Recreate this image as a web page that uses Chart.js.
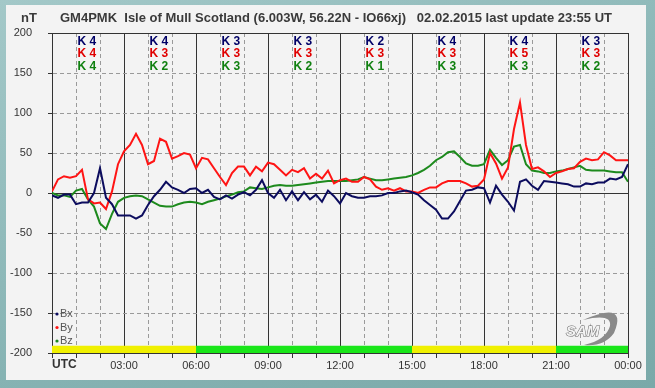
<!DOCTYPE html>
<html>
<head>
<meta charset="utf-8">
<script src="https://cdn.jsdelivr.net/npm/chart.js@4.4.1/dist/chart.umd.min.js"></script>
<style>
  html, body { margin: 0; padding: 0; }
  body { width: 655px; height: 388px; position: relative; overflow: hidden;
         background: linear-gradient(160deg, #a3c8c8 0%, #86b3b3 60%, #7aa9a9 100%); }
  #panel { position: absolute; left: 6px; top: 5px; width: 640px; height: 375px; background: #f3f3f3; }
  #wrap { position: absolute; left: 0; top: 0; width: 655px; height: 388px; }
</style>
</head>
<body>
<div id="panel"></div>
<div id="wrap"><canvas id="magChart" width="655" height="388"></canvas></div>
<script>
// time of day in hours (UTC), 15 min steps
const hours = [0,0.25,0.5,0.75,1,1.25,1.5,1.75,2,2.25,2.5,2.75,3,3.25,3.5,3.75,4,4.25,4.5,4.75,
  5,5.25,5.5,5.75,6,6.25,6.5,6.75,7,7.25,7.5,7.75,8,8.25,8.5,8.75,9,9.25,9.5,9.75,
  10,10.25,10.5,10.75,11,11.25,11.5,11.75,12,12.25,12.5,12.75,13,13.25,13.5,13.75,14,14.25,14.5,14.75,
  15,15.25,15.5,15.75,16,16.25,16.5,16.75,17,17.25,17.5,17.75,18,18.25,18.5,18.75,19,19.25,19.5,19.75,
  20,20.25,20.5,20.75,21,21.25,21.5,21.75,22,22.25,22.5,22.75,23,23.25,23.5,23.75,24];

// nT values
const bx = [-3,-6,-2,-2, -14,-12,-12,0, 31,-6,-14,-28, -28,-28,-32,-28, -15,-4,4,14,
  7,4,0,5, 6,0,4,-5, -8,-3,-7,-2, 1,-3,4,16, 0,-6,4,-9,
  2,-9,1,-8, -2,-11,3,-4, -13,0,-4,-6, -6,-4,-4,-3, 0,0,2,3,
  1,-2,-9,-15, -21,-32,-32,-23, -10,3,4,7, 6,-12,9,-2, -11,-22,14,17,
  9,4,15,14, 13,12,11,8, 8,12,11,13, 13,18,17,20, 36];
const by = [2,17,21,19, 21,29,-8,-13, -12,-20,2,36, 52,60,74,60, 36,40,68,64,
  43,46,50,48, 31,44,42,31, 20,10,25,33, 33,22,33,27, 38,36,29,22,
  29,26,31,18, 24,18,28,12, 16,18,14,14, 20,17,8,4, 6,3,6,2,
  2,0,4,7, 7,12,15,15, 15,12,8,9, 17,50,37,18, 32,80,113,60,
  30,32,27,20, 25,27,30,31, 39,43,41,42, 51,47,41,41, 41];
const bz = [0,-3,-3,-5, 3,5,-8,-17, -38,-45,-26,-11, -6,-4,-3,-4, -8,-12,-16,-17,
  -17,-14,-12,-11, -12,-14,-11,-9, -7,-4,-2,1, 2,7,6,5, 7,9,10,9,
  9,10,11,12, 13,14,15,15, 15,15,16,17, 20,18,16,16, 17,18,19,20,
  22,25,29,34, 41,45,51,52, 45,37,34,34, 36,54,44,35, 41,58,60,36,
  28,27,25,25, 27,28,30,32, 34,29,28,28, 28,27,26,26, 14];

// K index per 3 hour block
const kStart = [0,3,6,9,12,15,18,21];
const kX = [4,4,3,3,2,4,4,3];
const kY = [4,3,3,3,3,3,5,3];
const kZ = [4,2,3,2,1,3,3,2];

// activity strip along the bottom
const bandStart = [0,6,15,21];
const bandEnd = [6,15,21,24];
const bandLevel = ['unsettled','quiet','unsettled','quiet'];

const yTicks = [-200,-150,-100,-50,0,50,100,150,200];

const titleText = 'GM4PMK  Isle of Mull Scotland (6.003W, 56.22N - IO66xj)   02.02.2015 last update 23:55 UT';

const colX = '#0c0c5e', colY = '#ff1414', colZ = '#1d8a1d';
const levelColor = { quiet: '#19e619', unsettled: '#f0f000' };
const FONT = '"Liberation Sans", Arial, sans-serif';

function pts(vals) {
  return hours.map((h, i) => ({ x: h, y: vals[i] }));
}

const datasets = [
  { label: 'Bx', data: pts(bx), borderColor: colX, backgroundColor: colX },
  { label: 'By', data: pts(by), borderColor: colY, backgroundColor: colY },
  { label: 'Bz', data: pts(bz), borderColor: colZ, backgroundColor: colZ }
].map(d => Object.assign(d, { borderWidth: 2, pointRadius: 0, tension: 0, fill: false }));

bandStart.forEach((s, i) => {
  datasets.push({
    label: 'band' + i,
    data: [{ x: s, y: -191 }, { x: bandEnd[i], y: -191 }],
    borderWidth: 0,
    pointRadius: 0,
    backgroundColor: levelColor[bandLevel[i]],
    fill: { value: -200 }
  });
});

function isMajorY(v) { return v === 0 || v === 200 || v === -200; }

const decor = {
  id: 'decor',
  afterDraw(chart) {
    const ctx = chart.ctx;
    const x = chart.scales.x, y = chart.scales.y;
    ctx.save();
    ctx.textBaseline = 'middle';
    ctx.textAlign = 'left';

    // header
    ctx.fillStyle = '#3a3a3a';
    ctx.font = 'bold 13px ' + FONT;
    ctx.fillText('nT', 21, 18);
    ctx.fillText(titleText, 60, 18, 558);

    // K indices
    ctx.font = 'bold 12px ' + FONT;
    kStart.forEach((s, i) => {
      const left = x.getPixelForValue(s + 1) + 1.5;
      ctx.fillStyle = '#000066';
      ctx.fillText('K ' + kX[i], left, 42);
      ctx.fillStyle = '#e00000';
      ctx.fillText('K ' + kY[i], left, 54);
      ctx.fillStyle = '#108010';
      ctx.fillText('K ' + kZ[i], left, 67);
    });

    // UTC label
    ctx.fillStyle = '#333';
    ctx.font = 'bold 12px ' + FONT;
    ctx.fillText('UTC', x.getPixelForValue(0), 365);

    // legend
    ctx.font = '11px ' + FONT;
    chart.data.datasets.slice(0, 3).forEach((d, i) => {
      const ly = 314 + i * 13.5;
      ctx.fillStyle = d.borderColor;
      ctx.beginPath();
      ctx.arc(57, ly, 1.6, 0, Math.PI * 2);
      ctx.fill();
      ctx.fillStyle = '#555';
      ctx.fillText(d.label, 60, ly);
    });

    // SAM logo
    ctx.fillStyle = '#8a8a8a';
    ctx.beginPath();
    ctx.moveTo(583, 320);
    ctx.quadraticCurveTo(628, 300, 614, 333);
    ctx.quadraticCurveTo(604, 347, 584, 345);
    ctx.quadraticCurveTo(606, 340, 610, 326);
    ctx.quadraticCurveTo(612, 313, 583, 320);
    ctx.fill();
    ctx.font = 'italic bold 15px ' + FONT;
    ctx.strokeStyle = '#666';
    ctx.lineWidth = 1;
    ctx.fillStyle = '#f3f3f3';
    ctx.strokeText('SAM', 566, 332);
    ctx.fillText('SAM', 566, 332);
    ctx.restore();
  }
};

new Chart(document.getElementById('magChart'), {
  type: 'line',
  data: { datasets: datasets },
  plugins: [decor],
  options: {
    responsive: false,
    animation: false,
    layout: { padding: { left: 0, top: 33, right: 27, bottom: 0 } },
    plugins: { legend: { display: false }, tooltip: { enabled: false } },
    scales: {
      x: {
        type: 'linear',
        min: 0, max: 24,
        afterFit: s => { s.height = 35; },
        ticks: {
          stepSize: 1, autoSkip: false, maxRotation: 0, padding: 1,
          color: '#333', font: { family: FONT, size: 11 },
          callback: v => (v % 3 === 0 && v > 0) ? (v === 24 ? '00:00' : String(v).padStart(2, '0') + ':00') : ''
        },
        grid: {
          color: c => (c.tick && c.tick.value % 3 === 0) ? '#333' : '#9a9a9a',
          tickColor: '#333',
          tickLength: 5,
          lineWidth: 1
        },
        border: {
          display: false,
          dash: c => (c.tick && c.tick.value % 3 === 0) ? [] : [4, 3]
        }
      },
      y: {
        min: -200, max: 200,
        afterFit: s => { s.width = 52; },
        afterBuildTicks: s => { s.ticks = yTicks.map(v => ({ value: v })); },
        ticks: {
          padding: 16,
          color: '#333', font: { family: FONT, size: 11 }
        },
        grid: {
          color: c => (c.tick && isMajorY(c.tick.value)) ? '#333' : '#9a9a9a',
          tickColor: '#333',
          tickLength: 4,
          lineWidth: 1
        },
        border: {
          color: '#333',
          dash: c => (c.tick && isMajorY(c.tick.value)) ? [] : [4, 3]
        }
      }
    }
  }
});
</script>
</body>
</html>
